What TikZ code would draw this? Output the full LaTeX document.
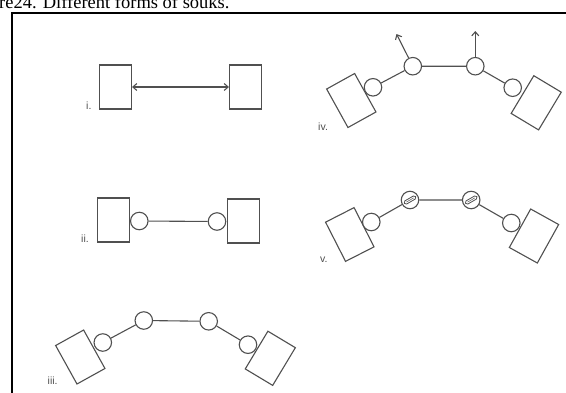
\documentclass[tikz,border=0pt]{standalone}
\usepackage{fontspec}
\setmainfont{Liberation Serif}
\setsansfont{Liberation Sans}
\usetikzlibrary{arrows.meta,calc}
\definecolor{ink}{HTML}{505050}
\begin{document}
\begin{tikzpicture}[x=1pt,y=-1pt,
 shop/.style={draw=ink, line width=1.1pt, minimum width=32pt, minimum height=44pt, inner sep=0pt, fill=white},
 joint/.style={circle, draw=ink, line width=1.1pt, minimum size=17.5pt, inner sep=0pt, fill=white},
 link/.style={draw=ink, line width=1.1pt},
 slot/.style={draw=ink, line width=0.8pt, rounded corners=1.6pt, minimum width=13pt, minimum height=3.6pt, inner sep=0pt, rotate=30},
 lbl/.style={font=\sffamily\fontsize{10.5}{10.5}\selectfont, text=ink, anchor=base west, inner sep=0pt},
 barb/.style={-{Straight Barb[length=4pt,width=7pt]}},
 dbarb/.style={{Straight Barb[length=4pt,width=7pt]}-{Straight Barb[length=4pt,width=7pt]}}]
\useasboundingbox (0,0) rectangle (566,392);
% frame and caption
\draw[line width=1.8pt] (12,400) -- (12,13) -- (580,13);
\node[anchor=base west, inner sep=0pt, font=\fontsize{18.5}{18.5}\selectfont] (cap) at (-1,8) {re24. Different forms of souks.};

% i.
\node[shop] (a1) at (115.5,87) {};
\node[shop] (a2) at (245.5,87) {};
\draw[link, dbarb] (a1.east) -- (a2.west);
\node[lbl] (la) at (86,109) {i.};

% ii.
\node[shop] (b1) at (113.5,220) {};
\node[shop] (b2) at (243.5,221) {};
\node[joint] (b1c) at (139.3,221) {};
\node[joint] (b2c) at (217,221.5) {};
\draw[link] (b1c) -- (b2c);
\node[lbl] (lb) at (81,242) {ii.};

% iii.
\node[shop, rotate=29] (c1) at (80.3,357) {};
\node[shop, rotate=-31] (c2) at (270.3,358.3) {};
\node[joint] (c1a) at (102.8,342.5) {};
\node[joint] (c1b) at (143.8,320.5) {};
\node[joint] (c2b) at (208.7,321.3) {};
\node[joint] (c2a) at (248,344.7) {};
\draw[link] (c1a) -- (c1b) -- (c2b) -- (c2a);
\node[lbl] (lc) at (47.5,384) {iii.};

% iv.
\node[shop, rotate=29] (d1) at (351.3,100.5) {};
\node[shop, rotate=-31] (d2) at (536.2,102.8) {};
\node[joint] (d1a) at (373,87.3) {};
\node[joint] (d1b) at (412.8,66.2) {};
\node[joint] (d2b) at (475.3,66.2) {};
\node[joint] (d2a) at (512.7,87.7) {};
\draw[link] (d1a) -- (d1b) -- (d2b) -- (d2a);
\coordinate (t1) at (396.5,34);
\coordinate (t2) at (475.3,31);
\draw[link, barb] (d1b) -- (t1);
\draw[link, barb] (d2b) -- (t2);
\node[lbl] (ld) at (318,130) {iv.};

% v.
\node[shop, rotate=27] (e1) at (349.8,234.5) {};
\node[shop, rotate=-29] (e2) at (534,236) {};
\node[joint] (e1a) at (371.3,222) {};
\node[joint] (e1b) at (410,200) {};
\node[joint] (e2b) at (471.2,200) {};
\node[joint] (e2a) at (511.3,223) {};
\draw[link] (e1a) -- (e1b) -- (e2b) -- (e2a);
\node[slot] (s1) at (e1b) {};
\node[slot] (s2) at (e2b) {};
\draw[ink, line width=0.5pt] ($(s1.west)!0.2!(s1.east)$) -- ($(s1.west)!0.8!(s1.east)$);
\draw[ink, line width=0.5pt] ($(s2.west)!0.2!(s2.east)$) -- ($(s2.west)!0.8!(s2.east)$);
\node[lbl] (le) at (320,262) {v.};
\end{tikzpicture}
\end{document}
